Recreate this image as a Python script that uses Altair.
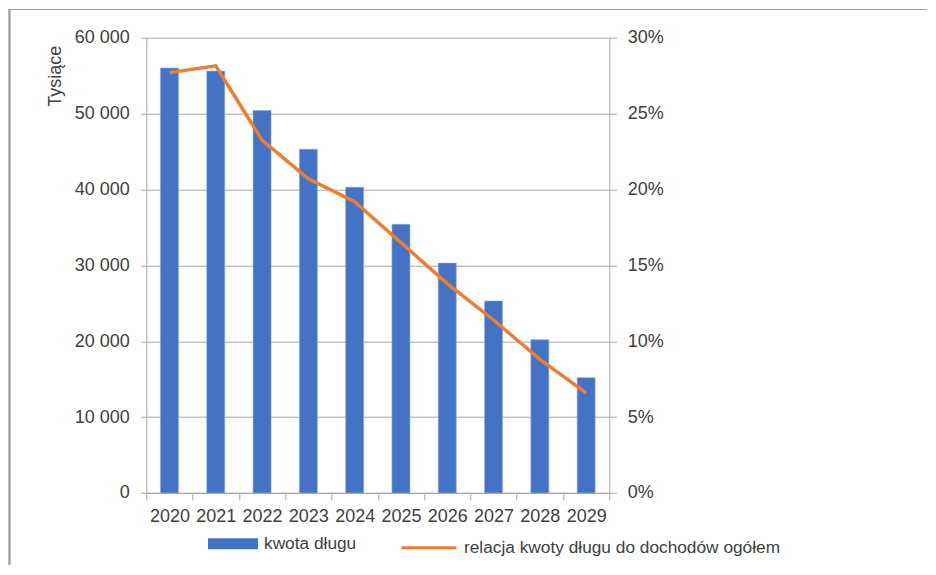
import altair as alt
import pandas as pd

years = ["2020", "2021", "2022", "2023", "2024", "2025", "2026", "2027", "2028", "2029"]
debt = [56000, 55600, 50400, 45300, 40300, 35400, 30300, 25300, 20200, 15200]
ratio_pct = [27.7, 28.15, 23.25, 20.7, 19.2, 16.5, 13.8, 11.4, 8.8, 6.6]

bar_name = "kwota długu"
line_name = "relacja kwoty długu do dochodów ogółem"

df = pd.DataFrame({
    "year": years,
    "debt": debt,
    "ratio": [r / 100 for r in ratio_pct],
    "s1": [bar_name] * len(years),
    "s2": [line_name] * len(years),
})

FONT = "Liberation Sans"
TXT = "#404040"
GRID = "#A6A6A6"

x_enc = alt.X(
    "year:N",
    sort=years,
    scale=alt.Scale(paddingInner=0, paddingOuter=0),
    axis=alt.Axis(
        title=None, labelAngle=0, tickBand="extent", grid=False,
        domainColor=GRID, tickColor=GRID, tickSize=7,
        labelFont=FONT, labelFontSize=18, labelColor=TXT, labelPadding=8,
    ),
)

bars = alt.Chart(df).mark_bar(size=18, color="#4472C4", stroke="#8FAADC", strokeWidth=0.6).encode(
    x=x_enc,
    y=alt.Y(
        "debt:Q",
        scale=alt.Scale(domain=[0, 60000], nice=False),
        axis=alt.Axis(
            title="Tysiące", values=[0, 10000, 20000, 30000, 40000, 50000, 60000],
            labelExpr="replace(format(datum.value, ','), ',', ' ')",
            grid=True, gridColor=GRID, domainColor=GRID, tickColor=GRID, tickSize=6,
            labelFont=FONT, labelFontSize=18, labelColor=TXT, labelPadding=11,
            titleFont=FONT, titleFontSize=18, titleColor=TXT, titleFontWeight="normal",
            titleAngle=270, titleAlign="center", titleBaseline="middle",
            titleX=-91, titleY=38,
        ),
    ),
    fill=alt.Fill(
        "s1:N",
        scale=alt.Scale(domain=[bar_name], range=["#4472C4"]),
        legend=alt.Legend(
            title=None, orient="none", legendX=61.7, legendY=481, padding=0,
            symbolType="M-1,-0.22H1V0.22H-1Z", symbolSize=2500, symbolStrokeWidth=0,
            labelFont=FONT, labelFontSize=17.3, labelColor=TXT, labelOffset=6, labelLimit=500,
        ),
    ),
)

line = alt.Chart(df).mark_line(strokeWidth=3.5, color="#ED7D31").encode(
    x=alt.X("year:N", sort=years),
    y=alt.Y(
        "ratio:Q",
        scale=alt.Scale(domain=[0, 0.3], nice=False),
        axis=alt.Axis(
            title=None, orient="right", format=".0%",
            values=[0, 0.05, 0.1, 0.15, 0.2, 0.25, 0.3],
            grid=False, domainColor=GRID, tickColor=GRID, tickSize=7,
            labelFont=FONT, labelFontSize=18, labelColor=TXT, labelPadding=11,
        ),
    ),
    stroke=alt.Stroke(
        "s2:N",
        scale=alt.Scale(domain=[line_name], range=["#ED7D31"]),
        legend=alt.Legend(
            title=None, orient="none", legendX=253.7, legendY=481, padding=0,
            symbolType="stroke", symbolSize=3025, symbolStrokeWidth=3,
            labelFont=FONT, labelFontSize=17.3, labelColor=TXT, labelOffset=6, labelLimit=500,
        ),
    ),
)

# chart-area frame: thin filled strips for the left and top edges
frame_left = alt.Chart().mark_rect(fill="#A0A0A0", strokeWidth=0).encode(
    x=alt.value(-137.4), x2=alt.value(-136.2), y=alt.value(-28.8), y2=alt.value(527.3)
)
frame_top = alt.Chart().mark_rect(fill="#A0A0A0", strokeWidth=0).encode(
    x=alt.value(-137.4), x2=alt.value(781), y=alt.value(-28.8), y2=alt.value(-27.6)
)

chart = alt.layer(frame_left, frame_top, bars, line, data=df).resolve_scale(
    y="independent", fill="independent", stroke="independent"
).properties(
    width=463,
    height=455.3,
    autosize=alt.AutoSizeParams(type="none"),
    padding={"left": 138.3, "top": 29.7, "right": 318, "bottom": 72},
).configure_view(stroke=None)

chart.save("out.html", embed_options={"renderer": "svg", "actions": False})
